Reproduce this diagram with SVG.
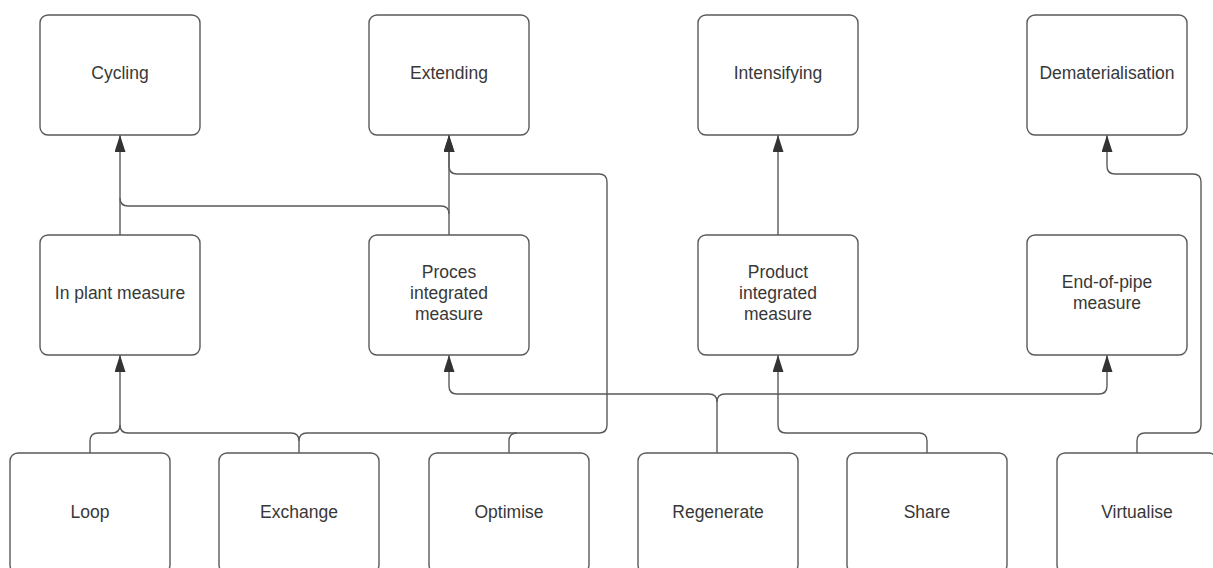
<svg xmlns="http://www.w3.org/2000/svg" width="1213" height="568" viewBox="0 0 1213 568">
  <style>
    .box { fill: #ffffff; stroke: #5a5a5a; stroke-width: 1.4; }
    .lbl { font-family: "Liberation Sans", Arial, sans-serif; font-size: 17.5px; fill: #383838; text-anchor: middle; }
    .edge { fill: none; stroke: #5a5a5a; stroke-width: 1.4; }
    .arrow { marker-end: url(#tip); }
  </style>
  <defs>
    <marker id="tip" markerUnits="userSpaceOnUse" markerWidth="18" markerHeight="12" refX="17" refY="5.5" orient="auto">
      <path d="M0,0 L17,5.5 L0,11 Z" fill="#333333"/>
    </marker>
  </defs>
  <rect width="1213" height="568" fill="#ffffff"/>

  <!-- connectors; branches that join a trunk stop where they merge -->
  <g id="connectors">
    <path class="edge arrow" d="M120,235 V135"/>
    <path class="edge arrow" d="M449,235 V135"/>
    <path class="edge" d="M449,214 Q449,206 441,206 H128 Q120,206 120,198"/>
    <path class="edge arrow" d="M778,235 V135"/>
    <path class="edge arrow" d="M1137,453 V441 Q1137,433 1145,433 H1193 Q1201,433 1201,425 V182 Q1201,174 1193,174 H1115 Q1107,174 1107,166 V135"/>
    <path class="edge arrow" d="M90,453 V441 Q90,433 98,433 H112 Q120,433 120,425 V355"/>
    <path class="edge" d="M299,441 Q299,433 291,433 H128 Q120,433 120,425"/>
    <path class="edge arrow" d="M299,453 V441 Q299,433 307,433 H599 Q607,433 607,425 V182 Q607,174 599,174 H457 Q449,174 449,166 V135"/>
    <path class="edge" d="M509,453 V441 Q509,433 517,433"/>
    <path class="edge arrow" d="M717,453 V402 Q717,394 709,394 H457 Q449,394 449,386 V355"/>
    <path class="edge arrow" d="M717,402 Q717,394 725,394 H1099 Q1107,394 1107,386 V355"/>
    <path class="edge arrow" d="M927,453 V441 Q927,433 919,433 H786 Q778,433 778,425 V355"/>
  </g>

  <!-- top row -->
  <g id="cycling"><rect class="box" x="40" y="15" width="160" height="120" rx="8"/><text class="lbl" x="120" y="79">Cycling</text></g>
  <g id="extending"><rect class="box" x="369" y="15" width="160" height="120" rx="8"/><text class="lbl" x="449" y="79">Extending</text></g>
  <g id="intensifying"><rect class="box" x="698" y="15" width="160" height="120" rx="8"/><text class="lbl" x="778" y="79">Intensifying</text></g>
  <g id="dematerialisation"><rect class="box" x="1027" y="15" width="160" height="120" rx="8"/><text class="lbl" x="1107" y="79">Dematerialisation</text></g>

  <!-- middle row -->
  <g id="in-plant"><rect class="box" x="40" y="235" width="160" height="120" rx="8"/><text class="lbl" x="120" y="299">In plant measure</text></g>
  <g id="proces-integrated"><rect class="box" x="369" y="235" width="160" height="120" rx="8"/>
    <text class="lbl" x="449" y="278">Proces</text><text class="lbl" x="449" y="299">integrated</text><text class="lbl" x="449" y="320">measure</text></g>
  <g id="product-integrated"><rect class="box" x="698" y="235" width="160" height="120" rx="8"/>
    <text class="lbl" x="778" y="278">Product</text><text class="lbl" x="778" y="299">integrated</text><text class="lbl" x="778" y="320">measure</text></g>
  <g id="end-of-pipe"><rect class="box" x="1027" y="235" width="160" height="120" rx="8"/>
    <text class="lbl" x="1107" y="288">End-of-pipe</text><text class="lbl" x="1107" y="309">measure</text></g>

  <!-- bottom row -->
  <g id="loop"><rect class="box" x="10" y="453" width="160" height="120" rx="8"/><text class="lbl" x="90" y="518">Loop</text></g>
  <g id="exchange"><rect class="box" x="219" y="453" width="160" height="120" rx="8"/><text class="lbl" x="299" y="518">Exchange</text></g>
  <g id="optimise"><rect class="box" x="429" y="453" width="160" height="120" rx="8"/><text class="lbl" x="509" y="518">Optimise</text></g>
  <g id="regenerate"><rect class="box" x="638" y="453" width="160" height="120" rx="8"/><text class="lbl" x="718" y="518">Regenerate</text></g>
  <g id="share"><rect class="box" x="847" y="453" width="160" height="120" rx="8"/><text class="lbl" x="927" y="518">Share</text></g>
  <g id="virtualise"><rect class="box" x="1057" y="453" width="160" height="120" rx="8"/><text class="lbl" x="1137" y="518">Virtualise</text></g>
</svg>
